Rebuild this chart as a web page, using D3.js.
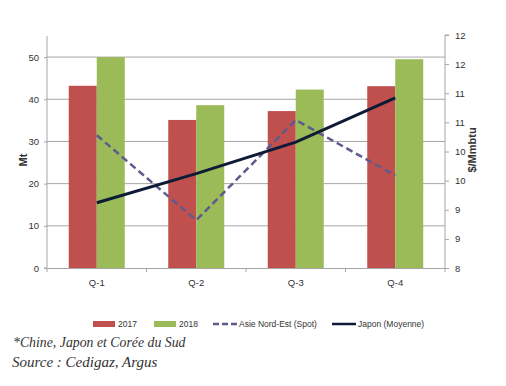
<!DOCTYPE html>
<html>
<head>
<meta charset="utf-8">
<script src="https://cdn.jsdelivr.net/npm/d3@7"></script>
<style>
  body { margin: 0; background: #fff; }
  text { font-family: "Liberation Sans", Arial, sans-serif; fill: #333; }
</style>
</head>
<body>
<svg id="chart" width="506" height="386"></svg>
<script>
// data
const quarters = ["Q-1", "Q-2", "Q-3", "Q-4"];
const vol2017  = [43.2, 35.1, 37.2, 43.1];
const vol2018  = [50.0, 38.6, 42.3, 49.5];
const spotAsie = [10.28, 8.82, 10.54, 9.59];
const japonMoy = [9.12, 9.62, 10.16, 10.92];
const leftTicks  = [0, 10, 20, 30, 40, 50];
const rightTicks = [8, 8.5, 9, 9.5, 10, 10.5, 11, 11.5, 12];

const svg = d3.select("#chart");
const plotL = 47, plotR = 445, plotT = 36, plotB = 268;

const x  = d3.scaleBand().domain(quarters).range([plotL, plotR]);
const yL = d3.scaleLinear().domain([0, 55]).range([plotB, plotT]);
const yR = d3.scaleLinear().domain([8, 12]).range([plotB, 35]);
const barW = 28;

// gridlines
svg.append("g").selectAll("line")
  .data(leftTicks.slice(1))
  .enter().append("line")
    .attr("x1", plotL).attr("x2", plotR)
    .attr("y1", d => yL(d)).attr("y2", d => yL(d))
    .attr("stroke", "#a6a6a6").attr("stroke-width", 1);

// bars
const groups = svg.append("g");
groups.selectAll(".b17").data(quarters).enter().append("rect")
  .attr("x", d => x(d) + x.bandwidth() / 2 - barW)
  .attr("y", (d, i) => yL(vol2017[i]))
  .attr("width", barW)
  .attr("height", (d, i) => plotB - yL(vol2017[i]))
  .attr("fill", "#c0504d");
groups.selectAll(".b18").data(quarters).enter().append("rect")
  .attr("x", d => x(d) + x.bandwidth() / 2)
  .attr("y", (d, i) => yL(vol2018[i]))
  .attr("width", barW)
  .attr("height", (d, i) => plotB - yL(vol2018[i]))
  .attr("fill", "#9bbb59");

// axes
const axL = svg.append("g").attr("transform", `translate(${plotL},0)`)
  .call(d3.axisLeft(yL).tickValues(leftTicks).tickSize(3).tickPadding(5));
const axR = svg.append("g").attr("transform", `translate(${plotR},0)`)
  .call(d3.axisRight(yR).tickValues(rightTicks).tickSize(4).tickPadding(6));
// excel rounds half up: 8.5 -> 9 etc
axR.selectAll(".tick text").text(d => Math.floor(d + 0.5));
const axX = svg.append("g").attr("transform", `translate(0,${plotB})`)
  .call(d3.axisBottom(x).tickSize(0).tickPadding(11));
// ticks between categories
svg.append("g").selectAll("line")
  .data(quarters.concat(["end"]))
  .enter().append("line")
    .attr("x1", (d, i) => plotL + i * x.bandwidth())
    .attr("x2", (d, i) => plotL + i * x.bandwidth())
    .attr("y1", plotB).attr("y2", plotB + 4)
    .attr("stroke", "#a6a6a6");

[axL, axR, axX].forEach(a => {
  a.select(".domain").attr("stroke", "#a6a6a6");
  a.selectAll(".tick line").attr("stroke", "#a6a6a6");
  a.selectAll(".tick text").style("font-size", "9.5px").attr("fill", "#444")
    .style("font-family", "'Liberation Sans', Arial, sans-serif");
});
axL.select(".domain").attr("d", `M-3,${plotB}H0V${plotT}`);
axR.select(".domain").attr("d", `M4,${yR(12)}H0V${plotB}`);

// lines
const xc = d => x(d) + x.bandwidth() / 2;
const lineGen = arr => d3.line().x(d => xc(d)).y((d, i) => yR(arr[i]))(quarters);
svg.append("path").attr("d", lineGen(spotAsie))
  .attr("fill", "none").attr("stroke", "#5e5a8d").attr("stroke-width", 2.5)
  .attr("stroke-dasharray", "7,4");
svg.append("path").attr("d", lineGen(japonMoy))
  .attr("fill", "none").attr("stroke", "#0e1b36").attr("stroke-width", 3);

// axis titles
svg.append("text").attr("transform", "translate(27,160) rotate(-90)")
  .attr("text-anchor", "middle").style("font-size", "11px").style("font-weight", "bold")
  .attr("fill", "#222").text("Mt");
svg.append("text").attr("transform", "translate(476,150) rotate(-90)")
  .attr("text-anchor", "middle").style("font-size", "11px").style("font-weight", "bold")
  .attr("fill", "#222").text("$/Mmbtu");

// legend
const lg = svg.append("g").attr("transform", "translate(0,324)");
const legendItems = [
  {x: 93, label: "2017", type: "rect", color: "#c0504d"},
  {x: 154, label: "2018", type: "rect", color: "#9bbb59"},
  {x: 213, label: "Asie Nord-Est (Spot)", type: "dash", color: "#5e5a8d"},
  {x: 332, label: "Japon (Moyenne)", type: "line", color: "#0e1b36"}
];
legendItems.forEach(it => {
  if (it.type === "rect") {
    lg.append("rect").attr("x", it.x).attr("y", -3).attr("width", 22).attr("height", 6).attr("fill", it.color);
  } else {
    lg.append("line").attr("x1", it.x).attr("x2", it.x + 24).attr("y1", 0).attr("y2", 0)
      .attr("stroke", it.color).attr("stroke-width", 2.5)
      .attr("stroke-dasharray", it.type === "dash" ? "6,3" : null);
  }
  lg.append("text").attr("x", it.x + (it.type === "rect" ? 25 : 26)).attr("y", 3)
    .style("font-size", "8.5px").attr("fill", "#444").text(it.label);
});

// footnotes
svg.append("text").attr("x", 13).attr("y", 347)
  .style("font-family", "'Liberation Serif', 'Times New Roman', serif")
  .style("font-style", "italic").style("font-size", "13.8px").attr("fill", "#111")
  .text("*Chine, Japon et Corée du Sud");
svg.append("text").attr("x", 12).attr("y", 367)
  .style("font-family", "'Liberation Serif', 'Times New Roman', serif")
  .style("font-style", "italic").style("font-size", "15px").attr("fill", "#111")
  .text("Source : Cedigaz, Argus");
</script>
</body>
</html>
